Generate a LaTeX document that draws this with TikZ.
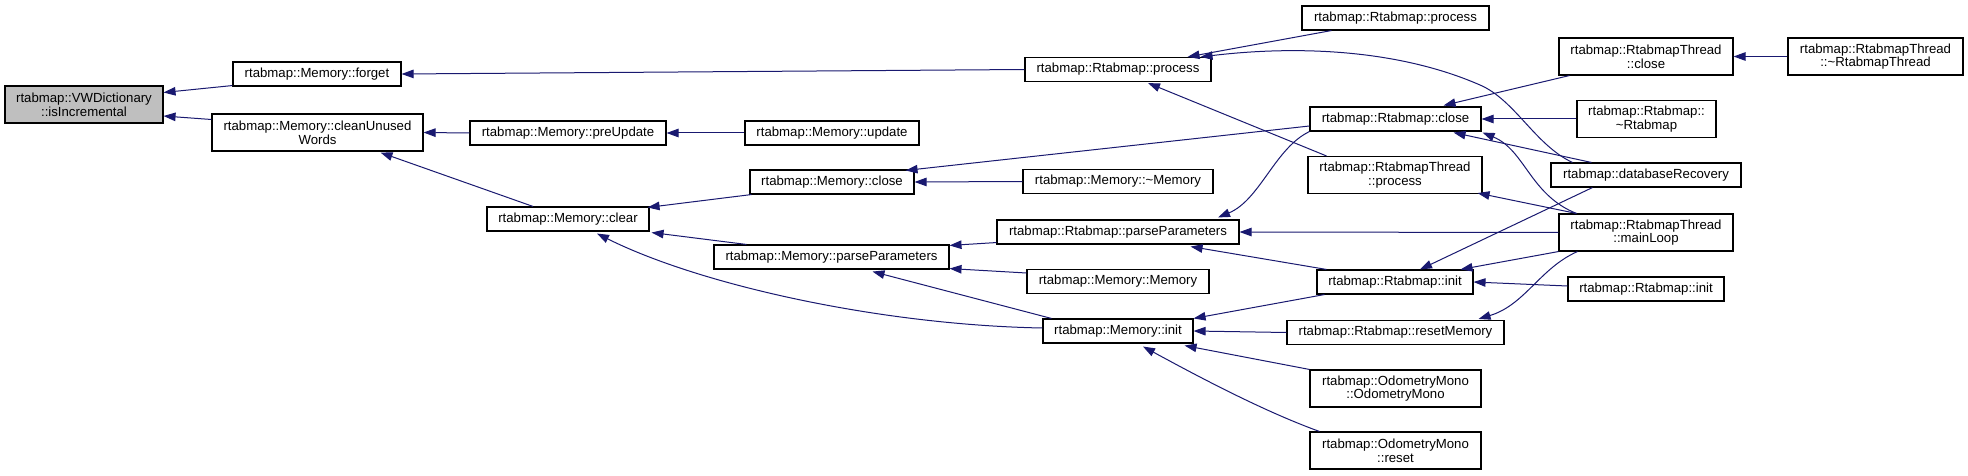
\documentclass[tikz,border=0pt]{standalone}
\usepackage{fontspec}
\setmainfont{Liberation Sans}
\usetikzlibrary{arrows.meta,calc}
\definecolor{edgeblue}{HTML}{191970}
\definecolor{nodegray}{HTML}{BFBFBF}
\begin{document}
\begin{tikzpicture}[x=1pt,y=-1pt,
  box/.style={draw=black, line width=1.1pt, fill=white, inner sep=0pt,
    font=\fontsize{13.2}{13.6}\selectfont, align=center, minimum height=24pt},
  tall/.style={minimum height=37pt},
  edge/.style={draw=edgeblue, line width=1pt, -{Triangle[length=12pt,width=8.5pt]}}]
\useasboundingbox[fill=white] (0,0) rectangle (1968,476);
% nodes
\node[box,fill=nodegray,tall,minimum width=158pt] (inc) at (84,104.5) {rtabmap::VWDictionary\\::isIncremental};
\node[box,minimum width=168pt] (forget) at (317,74) {rtabmap::Memory::forget};
\node[box,tall,minimum width=211pt] (clean) at (317.5,132.5) {rtabmap::Memory::cleanUnused\\Words};
\node[box,minimum width=196pt] (preup) at (568,133) {rtabmap::Memory::preUpdate};
\node[box,minimum width=162pt] (clear) at (568,219) {rtabmap::Memory::clear};
\node[box,minimum width=174pt] (update) at (832,133) {rtabmap::Memory::update};
\node[box,minimum width=164pt] (mclose) at (832,182) {rtabmap::Memory::close};
\node[box,minimum width=235pt] (mparse) at (831.5,257) {rtabmap::Memory::parseParameters};
\node[box,minimum width=186pt] (rp) at (1118,69.5) {rtabmap::Rtabmap::process};
\node[box,minimum width=190pt] (mdtor) at (1118,181.5) {rtabmap::Memory::\textasciitilde Memory};
\node[box,minimum width=242pt] (rparse) at (1118,232) {rtabmap::Rtabmap::parseParameters};
\node[box,minimum width=182pt] (mmem) at (1118,281.5) {rtabmap::Memory::Memory};
\node[box,minimum width=150pt] (minit) at (1118,331) {rtabmap::Memory::init};
\node[box,minimum width=187pt] (rp2) at (1395.5,18) {rtabmap::Rtabmap::process};
\node[box,minimum width=171pt] (rclose) at (1395.5,119) {rtabmap::Rtabmap::close};
\node[box,tall,minimum width=174pt] (rtproc) at (1395,175) {rtabmap::RtabmapThread\\::process};
\node[box,minimum width=156pt] (ri) at (1395,282) {rtabmap::Rtabmap::init};
\node[box,minimum width=217pt] (rreset) at (1395.5,332.5) {rtabmap::Rtabmap::resetMemory};
\node[box,tall,minimum width=171pt] (odo) at (1395.5,388.5) {rtabmap::OdometryMono\\::OdometryMono};
\node[box,tall,minimum width=171pt] (odoreset) at (1395.5,450.5) {rtabmap::OdometryMono\\::reset};
\node[box,tall,minimum width=174pt] (rtclose) at (1646,56.5) {rtabmap::RtabmapThread\\::close};
\node[box,tall,minimum width=175pt] (rtdtor) at (1875.5,56.5) {rtabmap::RtabmapThread\\::\textasciitilde RtabmapThread};
\node[box,tall,minimum width=139pt] (rdtor) at (1646.5,119) {rtabmap::Rtabmap::\\\textasciitilde Rtabmap};
\node[box,minimum width=190pt] (dbrec) at (1646,175) {rtabmap::databaseRecovery};
\node[box,tall,minimum width=174pt] (mainloop) at (1646,232.5) {rtabmap::RtabmapThread\\::mainLoop};
\node[box,minimum width=156pt] (ri2) at (1646,289) {rtabmap::Rtabmap::init};
% edges (caller -> callee)
\draw[edge] ($(forget.south west)+(0,-1)$) -- ($(inc.east)+(0,-12)$);
\draw[edge] ($(clean.west)+(0,-13)$) -- ($(inc.east)+(0,11.5)$);
\draw[edge] (rp.west) -- (forget.east);
\draw[edge] (preup.west) -- (clean.east);
\draw[edge] ($(clear.north)+(-35,0)$) -- ($(clean.south)+(63,1)$);
\draw[edge] (update.west) -- (preup.east);
\draw[edge] ($(mclose.south west)+(2,0)$) -- ($(clear.north east)+(-2,1)$);
\draw[edge] ($(mparse.north west)+(33,0)$) -- ($(clear.south east)+(2,1)$);
\draw[edge] ($(minit.west)+(0,-3)$) .. controls (880,325) and (700,285) .. ($(clear.south)+(29,2)$);
\draw[edge] ($(rclose.west)+(0,7)$) -- ($(mclose.north east)+(-9,1)$);
\draw[edge] (mdtor.west) -- (mclose.east);
\draw[edge] ($(rparse.south west)+(0,-2)$) -- ($(mparse.north east)+(0,1)$);
\draw[edge] ($(mmem.west)+(0,-8.5)$) -- ($(mparse.south east)+(0,-1)$);
\draw[edge] ($(minit.north west)+(9,0)$) -- ($(mparse.south)+(41,2)$);
\draw[edge] ($(ri.south west)+(8,0)$) -- (minit.north east);
\draw[edge] (rreset.west) -- (minit.east);
\draw[edge] (odo.north west) -- ($(minit.south east)+(-9,2)$);
\draw[edge] ($(odoreset.north west)+(10,0)$) .. controls (1260,410) and (1190,372) .. ($(minit.south)+(25,3)$);
\draw[edge] ($(rp2.south west)+(30,0)$) -- ($(rp.north east)+(-24,0)$);
\draw[edge] ($(dbrec.north west)+(22,0)$) .. controls (1535,145) and (1515,100) .. (1480,85) .. controls (1400,50) and (1300,45) .. ($(rp.north east)+(-11,0)$);
\draw[edge] ($(rtclose.south west)+(11,0)$) -- ($(rclose.north east)+(-38,-1)$);
\draw[edge] (rdtor.west) -- (rclose.east);
\draw[edge] ($(dbrec.north west)+(41,0)$) -- ($(rclose.south east)+(-28,1)$);
\draw[edge] ($(mainloop.north west)+(18,0)$) .. controls (1530,195) and (1525,150) .. ($(rclose.south east)+(1,1)$);
\draw[edge] ($(mainloop.north west)+(18,0)$) -- ($(rtproc.south east)+(-5,-1)$);
\draw[edge] (mainloop.west) -- (rparse.east);
\draw[edge] (mainloop.south west) -- ($(ri.north east)+(-13,0)$);
\draw[edge] ($(dbrec.south west)+(42,0)$) -- ($(ri.north)+(25,0)$);
\draw[edge] ($(rtproc.north west)+(19,0)$) -- ($(rp.south)+(30,1)$);
\draw[edge] (rclose.south west) .. controls (1275,148) and (1260,200) .. ($(rparse.north)+(100,-2)$);
\draw[edge] ($(ri.north west)+(10,0)$) -- ($(rparse.south east)+(-49,2)$);
\draw[edge] ($(ri2.west)+(0,-3)$) -- (ri.east);
\draw[edge] ($(mainloop.south west)+(19,0)$) .. controls (1540,268) and (1525,305) .. ($(rreset.north east)+(-26,-1)$);
\draw[edge] (rtdtor.west) -- (rtclose.east);
\end{tikzpicture}
\end{document}
